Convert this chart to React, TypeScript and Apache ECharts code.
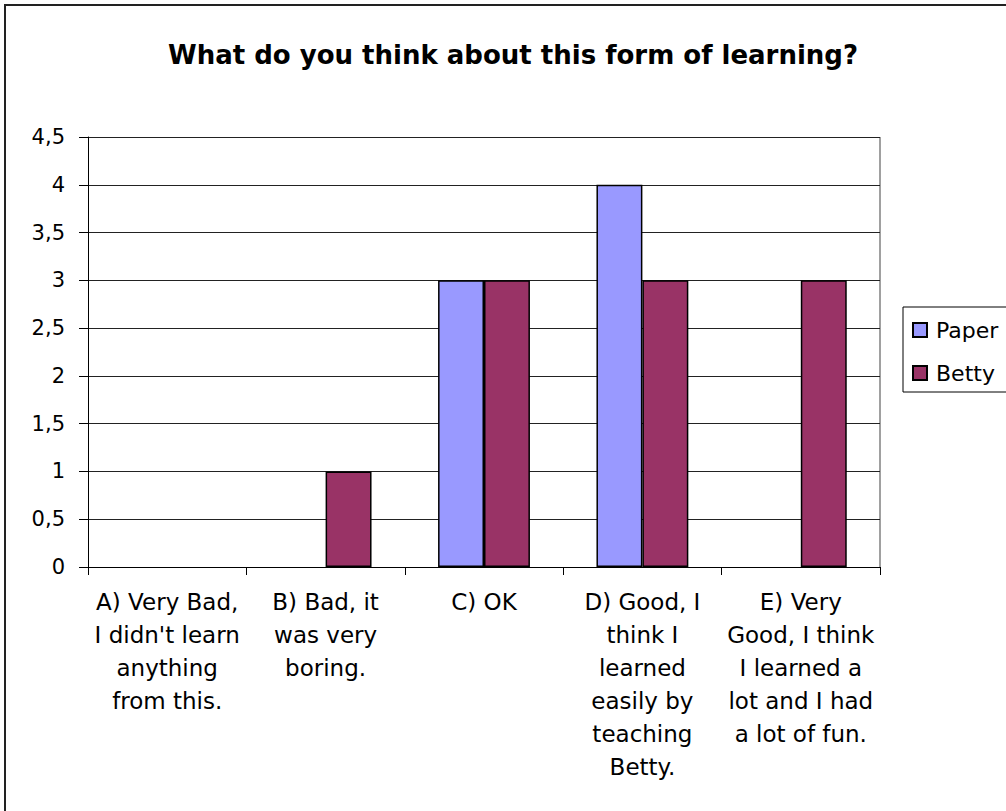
import React, { useEffect, useRef } from "react";
import * as echarts from "echarts";

const titleText = "What do you think about this form of learning?";
const categories = [
  "A) Very Bad,\nI didn't learn\nanything\nfrom this.",
  "B) Bad, it\nwas very\nboring.",
  "C) OK",
  "D) Good, I\nthink I\nlearned\neasily by\nteaching\nBetty.",
  "E) Very\nGood, I think\nI learned a\nlot and I had\na lot of fun.",
];
const seriesNames = ["Paper", "Betty"];
const paperValues = [0, 0, 3, 4, 0];
const bettyValues = [0, 1, 3, 3, 3];
const seriesColors = ["#9999FF", "#993366"];

const FONT = "DejaVu Sans";

const toData = (vals: number[]) =>
  vals.map((v) => (v === 0 ? { value: v, itemStyle: { borderWidth: 0 } } : v));

export default function App() {
  const ref = useRef<HTMLDivElement>(null);
  useEffect(() => {
    document.body.style.margin = "0";
    const chart = echarts.init(ref.current!, undefined, { renderer: "svg" });
    chart.setOption({
      animation: false,
      backgroundColor: "#ffffff",
      title: {
        text: titleText,
        left: 508,
        textAlign: "center",
        top: 37,
        textStyle: {
          fontFamily: FONT,
          fontSize: 26,
          fontWeight: "bold",
          color: "#000",
        },
      },
      graphic: [
        {
          type: "rect",
          shape: { x: 5, y: 5, width: 1100, height: 900 },
          style: { fill: "none", stroke: "#222", lineWidth: 2 },
          silent: true,
        },
        {
          type: "line",
          shape: { x1: 880, y1: 137, x2: 880, y2: 567 },
          style: { stroke: "#808080", lineWidth: 1.5 },
          silent: true,
        },
      ],
      legend: {
        orient: "vertical",
        left: 903,
        top: 307,
        data: seriesNames,
        icon: "rect",
        itemWidth: 14,
        itemHeight: 14,
        itemGap: 21,
        padding: [12, 9, 8, 9],
        borderColor: "#000",
        borderWidth: 1,
        backgroundColor: "#fff",
        textStyle: {
          fontFamily: FONT,
          fontSize: 22,
          color: "#000",
          padding: [0, 0, 0, 4],
        },
      },
      grid: {
        left: 88,
        top: 137,
        width: 792,
        height: 430,
        containLabel: false,
      },
      xAxis: {
        type: "category",
        data: categories,
        axisLine: { lineStyle: { color: "#000", width: 1 } },
        axisTick: { show: true, length: 8, lineStyle: { color: "#000" } },
        axisLabel: {
          interval: 0,
          margin: 18,
          fontFamily: FONT,
          fontSize: 23,
          lineHeight: 33,
          color: "#000",
          align: "center",
        },
        splitLine: { show: false },
      },
      yAxis: {
        type: "value",
        min: 0,
        max: 4.5,
        interval: 0.5,
        axisLine: { show: true, lineStyle: { color: "#000", width: 1 } },
        axisTick: { show: true, length: 9, lineStyle: { color: "#000" } },
        axisLabel: {
          margin: 23,
          fontFamily: FONT,
          fontSize: 21,
          color: "#000",
          formatter: (v: number) => String(v).replace(".", ","),
        },
        splitLine: { show: true, lineStyle: { color: "#222", width: 1 } },
      },
      series: [
        {
          name: seriesNames[0],
          type: "bar",
          data: toData(paperValues),
          barGap: "0%",
          barCategoryGap: "42%",
          itemStyle: { color: seriesColors[0], borderColor: "#000", borderWidth: 1.5 },
        },
        {
          name: seriesNames[1],
          type: "bar",
          data: toData(bettyValues),
          barGap: "0%",
          barCategoryGap: "42%",
          itemStyle: { color: seriesColors[1], borderColor: "#000", borderWidth: 1.5 },
        },
      ],
    });
    return () => chart.dispose();
  }, []);
  return (
    <div
      ref={ref}
      style={{ position: "absolute", left: 0, top: 0, width: 1006, height: 811 }}
    />
  );
}
